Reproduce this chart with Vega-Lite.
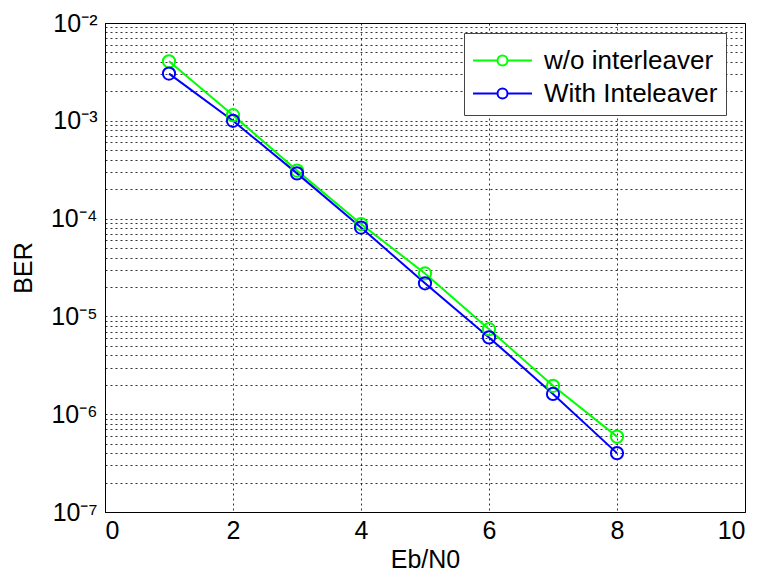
{
  "$schema": "https://vega.github.io/schema/vega-lite/v6.json",
  "autosize": {"type": "none"},
  "padding": {"left": 105, "top": 23, "right": 19, "bottom": 70},
  "width": 640,
  "height": 489,
  "background": "white",
  "data": {
    "values": [
      {"series": "w/o interleaver", "ebn0": 1, "ber": 4.06e-3},
      {"series": "w/o interleaver", "ebn0": 2, "ber": 1.14e-3},
      {"series": "w/o interleaver", "ebn0": 3, "ber": 3.1e-4},
      {"series": "w/o interleaver", "ebn0": 4, "ber": 8.8e-5},
      {"series": "w/o interleaver", "ebn0": 5, "ber": 2.75e-5},
      {"series": "w/o interleaver", "ebn0": 6, "ber": 7.4e-6},
      {"series": "w/o interleaver", "ebn0": 7, "ber": 1.95e-6},
      {"series": "w/o interleaver", "ebn0": 8, "ber": 5.9e-7},
      {"series": "With Inteleaver", "ebn0": 1, "ber": 3.04e-3},
      {"series": "With Inteleaver", "ebn0": 2, "ber": 1.0e-3},
      {"series": "With Inteleaver", "ebn0": 3, "ber": 2.9e-4},
      {"series": "With Inteleaver", "ebn0": 4, "ber": 8.1e-5},
      {"series": "With Inteleaver", "ebn0": 5, "ber": 2.18e-5},
      {"series": "With Inteleaver", "ebn0": 6, "ber": 6.1e-6},
      {"series": "With Inteleaver", "ebn0": 7, "ber": 1.61e-6},
      {"series": "With Inteleaver", "ebn0": 8, "ber": 4.0e-7}
    ]
  },
  "mark": {"type": "line", "strokeWidth": 2, "point": {"filled": false, "size": 150, "strokeWidth": 2}},
  "encoding": {
    "x": {
      "field": "ebn0", "type": "quantitative",
      "scale": {"domain": [0, 10], "nice": false},
      "axis": {"values": [0, 2, 4, 6, 8, 10], "title": "Eb/N0", "titlePadding": 4, "labelPadding": 6}
    },
    "y": {
      "field": "ber", "type": "quantitative",
      "scale": {"type": "log", "domain": [1e-7, 1e-2], "nice": false},
      "axis": {
        "title": "BER",
        "titlePadding": 14,
        "labelPadding": 8,
        "values": [1e-7, 2e-7, 3e-7, 4e-7, 5e-7, 6e-7, 7e-7, 8e-7, 9e-7,
                   1e-6, 2e-6, 3e-6, 4e-6, 5e-6, 6e-6, 7e-6, 8e-6, 9e-6,
                   1e-5, 2e-5, 3e-5, 4e-5, 5e-5, 6e-5, 7e-5, 8e-5, 9e-5,
                   1e-4, 2e-4, 3e-4, 4e-4, 5e-4, 6e-4, 7e-4, 8e-4, 9e-4,
                   1e-3, 2e-3, 3e-3, 4e-3, 5e-3, 6e-3, 7e-3, 8e-3, 9e-3, 1e-2],
        "labelExpr": "abs(log(datum.value)/LN10 - round(log(datum.value)/LN10)) < 0.001 ? '10⁻' + ['⁰','¹','²','³','⁴','⁵','⁶','⁷','⁸','⁹'][-round(log(datum.value)/LN10)] : ''"
      }
    },
    "color": {
      "field": "series", "type": "nominal",
      "scale": {"domain": ["w/o interleaver", "With Inteleaver"], "range": ["#00ff00", "#0000ff"]},
      "legend": {
        "title": null,
        "orient": "none",
        "legendX": 359,
        "legendY": 10,
        "direction": "vertical",
        "strokeColor": "#444444",
        "fillColor": "white",
        "padding": 8,
        "labelFontSize": 26,
        "labelFont": "Liberation Sans",
        "labelColor": "black",
        "labelLimit": 400,
        "rowPadding": 0,
        "symbolType": "M-1,0L0.325,0M0.865,0L2.19,0M0.865,0A0.27,0.27 0 1,0 0.325,0A0.27,0.27 0 1,0 0.865,0",
        "symbolSize": 1369,
        "symbolStrokeWidth": 2,
        "symbolFillColor": "transparent",
        "labelOffset": 33
      }
    }
  },
  "config": {
    "view": {"stroke": "black", "strokeWidth": 1},
    "axis": {
      "labelFont": "Liberation Sans",
      "titleFont": "Liberation Sans",
      "labelFontSize": 25,
      "titleFontSize": 25,
      "titleFontWeight": "normal",
      "labelColor": "black",
      "titleColor": "black",
      "domainColor": "black",
      "tickColor": "black",
      "tickSize": 0,
      "grid": true,
      "gridColor": "black",
      "gridDash": [2, 3],
      "gridOpacity": 0.8,
      "gridWidth": 1
    }
  }
}
